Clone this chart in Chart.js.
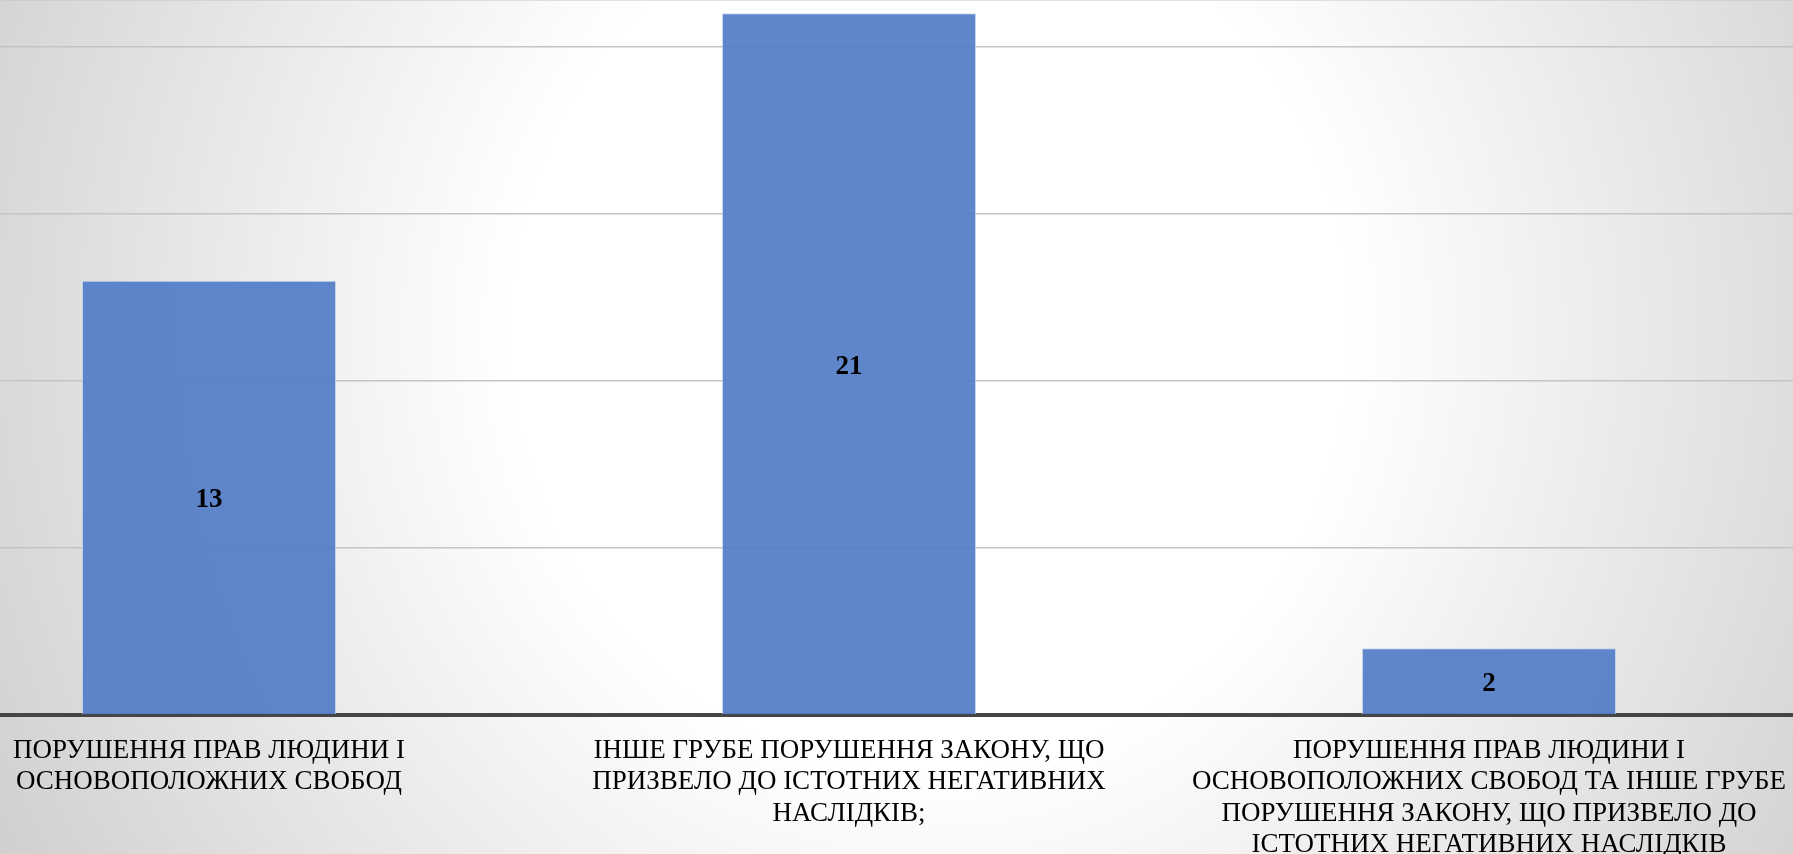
<!DOCTYPE html>
<html>
<head>
<meta charset="utf-8">
<script src="https://cdn.jsdelivr.net/npm/chart.js@4.4.1/dist/chart.umd.min.js"></script>
<style>
    html, body {
        margin: 0;
        padding: 0;
        width: 1793px;
        height: 854px;
        overflow: hidden;
        background: radial-gradient(ellipse 1050px 1100px at 930px 330px, #ffffff 0%, #ffffff 40%, #d0d0d0 100%);
    }
    #barChart {
        position: absolute;
        left: -111px;
        top: 0;
    }
</style>
</head>
<body>
<canvas id="barChart" width="1920" height="854"></canvas>
<script>
const categories = [
    ['ПОРУШЕННЯ ПРАВ ЛЮДИНИ І', 'ОСНОВОПОЛОЖНИХ СВОБОД'],
    ['ІНШЕ ГРУБЕ ПОРУШЕННЯ ЗАКОНУ, ЩО', 'ПРИЗВЕЛО ДО ІСТОТНИХ НЕГАТИВНИХ', 'НАСЛІДКІВ;'],
    ['ПОРУШЕННЯ ПРАВ ЛЮДИНИ І', 'ОСНОВОПОЛОЖНИХ СВОБОД ТА ІНШЕ ГРУБЕ', 'ПОРУШЕННЯ ЗАКОНУ, ЩО ПРИЗВЕЛО ДО', 'ІСТОТНИХ НЕГАТИВНИХ НАСЛІДКІВ']
];
const counts = [13, 21, 2];
const gridStep = 5;

// draws the value in the middle of every bar
const barValues = {
    id: 'barValues',
    afterDatasetsDraw(chart) {
        const c = chart.ctx;
        c.save();
        c.font = 'bold 27px "Liberation Serif", serif';
        c.fillStyle = '#000';
        c.textAlign = 'center';
        c.textBaseline = 'middle';
        chart.getDatasetMeta(0).data.forEach((bar, i) => {
            c.fillText(counts[i], bar.x, (bar.y + bar.base) / 2 + 3);
        });
        c.restore();
    }
};

const ctx = document.getElementById('barChart');
const barChart = new Chart(ctx, {
    type: 'bar',
    data: {
        labels: categories,
        datasets: [{
            data: counts,
            backgroundColor: 'rgba(83, 125, 199, 0.93)',
            borderColor: 'rgba(190, 208, 238, 0.8)',
            borderWidth: 1,
            barPercentage: 0.397,
            categoryPercentage: 1
        }]
    },
    plugins: [barValues],
    options: {
        responsive: false,
        animation: false,
        devicePixelRatio: 1,
        layout: { padding: 0 },
        plugins: {
            legend: { display: false },
            tooltip: { enabled: false }
        },
        scales: {
            y: {
                min: 0,
                max: 21.4,
                ticks: { display: false, stepSize: gridStep },
                grid: { color: '#c4c4c4', lineWidth: 1.5, drawTicks: false },
                border: { display: false }
            },
            x: {
                afterFit(scale) { scale.height = 139; },
                grid: { display: false, drawTicks: false },
                border: { color: '#454545', width: 4 },
                ticks: {
                    autoSkip: false,
                    maxRotation: 0,
                    minRotation: 0,
                    padding: 20,
                    color: '#000',
                    font: { family: '"Liberation Serif", "Times New Roman", serif', size: 27, lineHeight: '31.5px' }
                }
            }
        }
    }
});
</script>
</body>
</html>
